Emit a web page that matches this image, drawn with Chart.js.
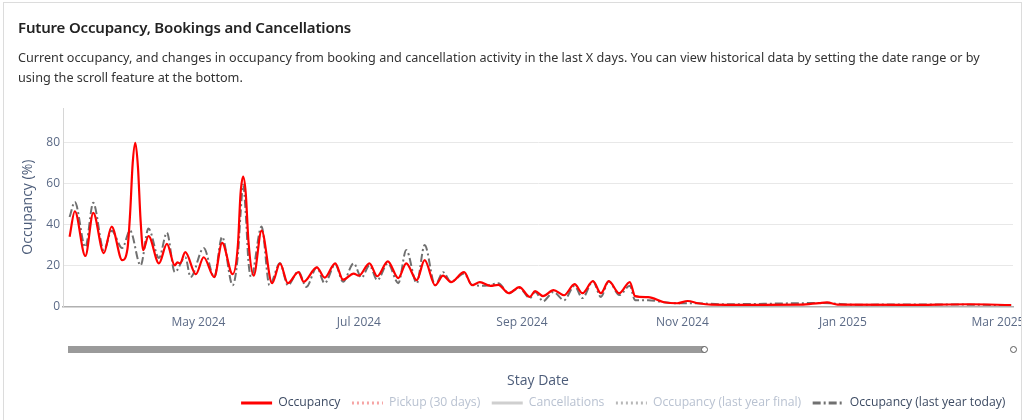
<!DOCTYPE html>
<html><head><meta charset="utf-8">
<script src="https://cdn.jsdelivr.net/npm/chart.js@4.4.1/dist/chart.umd.min.js"></script>
<style>
html,body{margin:0;padding:0;background:#fff;width:1024px;height:420px;overflow:hidden;}
#clip{position:absolute;left:4px;top:3px;width:1017px;height:417px;overflow:hidden;}
#page{position:absolute;left:-4px;top:-3px;width:1040px;height:440px;}
#frame{position:absolute;left:3px;top:2px;width:1019px;height:440px;border:1px solid #dcdcdc;box-sizing:border-box;pointer-events:none;}
h1{position:absolute;left:18px;top:17px;margin:0;font:600 15px/20px 'Noto Sans',sans-serif;letter-spacing:-0.18px;color:#222;white-space:nowrap;}
.sub{position:absolute;left:18px;top:47px;margin:0;font:400 12.65px/20px 'Noto Sans',sans-serif;color:#333;white-space:nowrap;}
#c{position:absolute;left:0;top:0;}
.bar{position:absolute;left:68px;top:346px;width:637px;height:7px;background:#9a9a9a;}
.knob{position:absolute;width:7px;height:7px;border-radius:50%;border:1.5px solid #5a5a5a;background:#fff;box-sizing:border-box;}
</style></head>
<body>
<div id="clip"><div id="page">
<canvas id="c" width="1040" height="420"></canvas>
<h1>Future Occupancy, Bookings and Cancellations</h1>
<p class="sub">Current occupancy, and changes in occupancy from booking and cancellation activity in the last X days. You can view historical data by setting the date range or by<br>using the scroll feature at the bottom.</p>
<div class="bar"></div>
<div class="knob" style="left:701px;top:346px"></div>
<div class="knob" style="left:1010px;top:346px"></div>
</div></div>
<div id="frame"></div>
<script>
// ---------- data ----------
const tickDates  = ['2024-05-01','2024-07-01','2024-09-01','2024-11-01','2025-01-01','2025-03-01'];
const tickLabels = ['May 2024','Jul 2024','Sep 2024','Nov 2024','Jan 2025','Mar 2025'];
const yTicks = [0, 20, 40, 60, 80];

const occDates = ['2024-03-13','2024-03-15','2024-03-19','2024-03-22','2024-03-26','2024-03-29','2024-04-02','2024-04-04','2024-04-05','2024-04-06','2024-04-07','2024-04-08','2024-04-09','2024-04-10','2024-04-12','2024-04-16','2024-04-19','2024-04-22','2024-04-23','2024-04-24','2024-04-26','2024-04-30','2024-05-03','2024-05-07','2024-05-10','2024-05-14','2024-05-16','2024-05-17','2024-05-18','2024-05-19','2024-05-20','2024-05-22','2024-05-25','2024-05-29','2024-06-01','2024-06-04','2024-06-08','2024-06-10','2024-06-15','2024-06-18','2024-06-22','2024-06-25','2024-06-29','2024-07-01','2024-07-05','2024-07-08','2024-07-12','2024-07-16','2024-07-19','2024-07-23','2024-07-26','2024-07-30','2024-08-02','2024-08-05','2024-08-10','2024-08-13','2024-08-16','2024-08-20','2024-08-23','2024-08-27','2024-08-31','2024-09-04','2024-09-06','2024-09-09','2024-09-13','2024-09-17','2024-09-21','2024-09-24','2024-09-28','2024-10-01','2024-10-04','2024-10-08','2024-10-12','2024-10-14','2024-10-19','2024-10-25','2024-10-30','2024-11-03','2024-11-07','2024-11-12','2024-11-26','2024-12-16','2024-12-23','2024-12-26','2024-12-30','2025-01-25','2025-02-18','2025-03-06'];
const occValues = [34,46.5,24.6,45.7,26,39,22.6,28,45,70,80,68,42,27.5,34.4,21,30.5,20,21.5,21,26.5,15.7,24,14.3,31,15.7,30,55,63.4,55,32,15,37,11.3,21,11.3,16.7,12,19,14,21,13,16,15,21,14.7,22,13.8,21,12.8,22.6,10.3,15,11.8,16.7,10.3,11.8,10,10.5,6.4,9.4,4.6,7.4,5,7.9,5.4,10.8,6.4,12.3,6.4,12.3,6.4,11.8,5,4.5,2,1.5,2.6,1.5,0.8,0.7,0.8,1.6,1.9,0.8,0.7,1.0,0.6];

const lyDates = ['2024-03-13','2024-03-15','2024-03-19','2024-03-22','2024-03-26','2024-03-29','2024-04-02','2024-04-05','2024-04-09','2024-04-12','2024-04-16','2024-04-19','2024-04-22','2024-04-26','2024-04-28','2024-05-03','2024-05-07','2024-05-10','2024-05-14','2024-05-16','2024-05-17','2024-05-18','2024-05-19','2024-05-20','2024-05-21','2024-05-25','2024-05-28','2024-06-01','2024-06-04','2024-06-08','2024-06-11','2024-06-15','2024-06-18','2024-06-22','2024-06-25','2024-06-29','2024-07-02','2024-07-05','2024-07-08','2024-07-12','2024-07-16','2024-07-19','2024-07-23','2024-07-26','2024-07-30','2024-08-02','2024-08-05','2024-08-10','2024-08-13','2024-08-18','2024-08-23','2024-08-27','2024-08-31','2024-09-04','2024-09-06','2024-09-09','2024-09-13','2024-09-17','2024-09-21','2024-09-24','2024-09-28','2024-10-01','2024-10-04','2024-10-08','2024-10-12','2024-10-14','2024-10-19','2024-10-25','2024-10-30','2024-11-06','2024-11-16','2024-12-24','2024-12-28','2025-01-05','2025-02-04','2025-03-06'];
const lyValues = [43.7,51,29,50.6,27.5,37,28.5,37,20,38,23.6,36,16.7,24,14.3,28.5,14.3,34,10.3,25,45,59.5,45,22,14.3,39,10.3,21,10.3,17,9.5,19,11.3,20.5,12,21,14,20,12.8,21,11.3,27.5,11.3,30,10.3,16.7,12,16,10.5,10,11.3,6.4,9,4,7,2.5,7,3,10,4,12.3,4.6,12.3,5.5,10,3,3,2,1.5,1.5,1,1.6,1.4,0.8,0.9,0.6];

const seriesNames = ['Occupancy','Pickup (30 days)','Cancellations','Occupancy (last year final)','Occupancy (last year today)'];
const axisStart = '2024-03-11';
const axisEnd = '2025-03-07';

// ---------- helpers ----------
function dayNum(s){const [y,m,d]=s.split('-').map(Number);return Date.UTC(y,m-1,d)/86400000;}
function toPoints(dates, vals){return dates.map((d,i)=>({x:dayNum(d),y:vals[i]}));}

Chart.defaults.font.family = "'Open Sans', sans-serif";
Chart.defaults.font.size = 12;

const legendShift = {id:'legendShift', afterLayout(c){
  const lg = c.legend; if(!lg) return;
  lg.left += 4; lg.right += 4;
  if (lg.lineWidths) lg.lineWidths = lg.lineWidths.map(w => w + 0.05);
}};

const tickColor = '#5b6a86';
new Chart(document.getElementById('c'), {
  type: 'line',
  plugins: [legendShift],
  data: {
    datasets: [
      {label: seriesNames[0], data: toPoints(occDates, occValues), borderColor:'#ff0000', borderWidth:2.2, pointRadius:0, cubicInterpolationMode:'monotone'},
      {label: seriesNames[1], data: [], hidden:true, borderColor:'#f6a4a4', borderWidth:2, borderDash:[2,3], pointRadius:0},
      {label: seriesNames[2], data: [], hidden:true, borderColor:'#cfcfcf', borderWidth:2, pointRadius:0},
      {label: seriesNames[3], data: [], hidden:true, borderColor:'#b8b8b8', borderWidth:2, borderDash:[2,3], pointRadius:0},
      {label: seriesNames[4], data: toPoints(lyDates, lyValues), borderColor:'#707070', borderWidth:2, borderDash:[8,3,2,3], pointRadius:0, cubicInterpolationMode:'monotone'}
    ]
  },
  options: {
    responsive:false, animation:false, devicePixelRatio:1,
    layout:{padding:{top:108,left:0,right:27,bottom:1}},
    scales:{
      x:{
        type:'linear', min: dayNum(axisStart)-0.5, max: dayNum(axisEnd)-0.3,
        afterBuildTicks: s => { s.ticks = tickDates.map(d=>({value:dayNum(d)})); },
        afterFit: s => { s.height = 79; },
        ticks:{ color:tickColor, padding:9, maxRotation:0, autoSkip:false,
          callback:(v)=>{ const i = tickDates.findIndex(d=>dayNum(d)===v); return i>=0?tickLabels[i]:''; } },
        grid:{display:false, drawTicks:false},
        border:{display:true, color:'#b0b0b0', width:1.5},
        title:{display:true, text:'Stay Date', color:'#4d5d7a', font:{size:14, lineHeight:1}, padding:{top:0,bottom:-3}}
      },
      y:{
        min:0, max:97,
        afterBuildTicks: s => { s.ticks = yTicks.map(v=>({value:v})); },
        afterFit: s => { s.width = 63; },
        ticks:{ color:tickColor, padding:3 },
        grid:{ color: c => c.tick && c.tick.value===0 ? 'rgba(0,0,0,0)' : '#e8e8e8', drawTicks:false },
        border:{display:true, color:'#d6d6d6', width:1},
        title:{display:true, text:'Occupancy (%)', color:'#4d5d7a', font:{size:14}, padding:{top:20,bottom:0}}
      }
    },
    plugins:{
      tooltip:{enabled:false},
      legend:{
        position:'bottom', align:'end',
        labels:{
          usePointStyle:true, pointStyle:'line', pointStyleWidth:31, padding:11.5,
          color:'#3d4b63', font:{size:12.2},
          generateLabels(chart){
            const items = Chart.defaults.plugins.legend.labels.generateLabels(chart);
            items.forEach(it=>{
              const ds = chart.data.datasets[it.datasetIndex];
              it.pointStyle='line';
              it.lineWidth = 3;
              it.strokeStyle = ds.borderColor;
              it.lineDash = ds.borderDash || [];
              if(it.hidden){ it.fontColor = '#b9c2d1'; it.hidden = false; }
              else { it.fontColor = '#3d4b63'; }
            });
            return items;
          }
        }
      }
    }
  }
});
</script>
</body></html>
